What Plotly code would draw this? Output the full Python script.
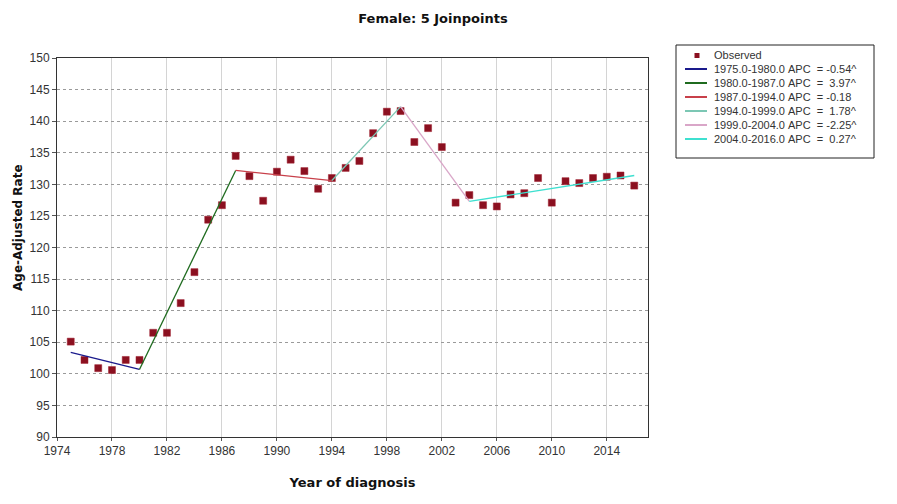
import plotly.graph_objects as go

# observed age-adjusted rates
years = list(range(1975, 2017))
observed = [
    105.1, 102.2, 100.9, 100.6, 102.2, 102.2, 106.5, 106.5, 111.2, 116.1,
    124.4, 126.7, 134.5, 131.3, 127.4, 132.0, 133.9, 132.1, 129.3, 131.0,
    132.6, 133.7, 138.1, 141.5, 141.6, 136.7, 138.9, 135.9, 127.1, 128.3,
    126.7, 126.5, 128.4, 128.6, 131.0, 127.1, 130.5, 130.2, 131.0, 131.2,
    131.4, 129.8,
]

# joinpoint model: segment end years and fitted values there
joinpoints = [1975, 1980, 1987, 1994, 1999, 2004, 2016]
fitted = [103.4, 100.7, 132.2, 130.6, 142.3, 127.3, 131.4]
seg_labels = [
    "1975.0-1980.0 APC  = -0.54^",
    "1980.0-1987.0 APC  =  3.97^",
    "1987.0-1994.0 APC  = -0.18",
    "1994.0-1999.0 APC  =  1.78^",
    "1999.0-2004.0 APC  = -2.25^",
    "2004.0-2016.0 APC  =  0.27^",
]
seg_colors = ["#1a1a8c", "#1f6b1f", "#c8404a", "#7cc7b4", "#d9a6c8", "#3ee0d0"]
obs_color = "#8b1020"

# page has an 8px body margin, so the figure is 8px smaller and shifted
W, H = 889, 496
ML, MR, MT, MB = 49, 249, 50, 67
PW, PH = W - ML - MR, H - MT - MB


def px(x):  # figure pixel -> paper x
    return (x - ML) / PW


def py(y):  # figure pixel -> paper y
    return (H - MB - y) / PH


fig = go.Figure()
fig.add_trace(go.Scatter(
    x=years, y=observed, mode="markers", name="Observed",
    marker=dict(symbol="square", size=7, color=obs_color, line=dict(color="#a02030", width=0.5)),
))
for i, lab in enumerate(seg_labels):
    fig.add_trace(go.Scatter(
        x=joinpoints[i:i + 2], y=fitted[i:i + 2], mode="lines", name=lab,
        line=dict(color=seg_colors[i], width=1.3),
    ))

# hand-made legend (tighter rows than plotly's own legend)
shapes = [dict(type="rect", xref="paper", yref="paper", x0=px(668), x1=px(866), y0=py(37), y1=py(150),
               line=dict(color="#222", width=1), fillcolor="white", layer="above")]
annotations = []
row_y = 47.5
shapes.append(dict(type="rect", xref="paper", yref="paper", x0=px(686.5), x1=px(691.5),
                   y0=py(row_y - 2.5), y1=py(row_y + 2.5), line=dict(width=0), fillcolor=obs_color))
names = ["Observed"] + seg_labels
for i, name in enumerate(names):
    y = row_y if i == 0 else 61 + 14 * (i - 1)
    if i > 0:
        shapes.append(dict(type="line", xref="paper", yref="paper", x0=px(677), x1=px(699),
                           y0=py(y), y1=py(y), line=dict(color=seg_colors[i - 1], width=2)))
    annotations.append(dict(
        xref="paper", yref="paper", x=px(704), y=py(y), xanchor="left", yanchor="middle",
        text=name.replace(" ", "\u00a0"), showarrow=False,
        font=dict(family="Liberation Sans, Arial, sans-serif", size=11, color="#333"),
    ))

# y axis title sits a bit above the plot middle in the original
annotations.append(dict(
    xref="paper", yref="paper", x=px(1), y=py(220), xanchor="left", yanchor="middle",
    text="<b>Age-Adjusted Rate</b>", textangle=-90, showarrow=False,
    font=dict(family="DejaVu Sans, Verdana, sans-serif", size=12, color="#111"),
))

fig.update_layout(
    width=W, height=H,
    paper_bgcolor="white", plot_bgcolor="white",
    margin=dict(l=ML, r=MR, t=MT, b=MB, autoexpand=False),
    font=dict(family="Liberation Sans, Arial, sans-serif", size=12, color="#333"),
    title=dict(text="<b>Female: 5 Joinpoints</b>", x=0.478, xanchor="center", y=0.978, yanchor="middle",
               font=dict(family="DejaVu Sans, Verdana, sans-serif", size=13, color="#111")),
    showlegend=False,
    shapes=shapes,
    annotations=annotations,
)
fig.update_xaxes(
    range=[1974, 2017], tickmode="linear", tick0=1974, dtick=4,
    showgrid=True, gridcolor="#d4d4d4", gridwidth=1,
    showline=True, linecolor="#333", linewidth=1, mirror=True,
    ticks="outside", ticklen=3, tickcolor="#555", zeroline=False,
    title=dict(text="<b>Year of diagnosis</b>", standoff=20,
               font=dict(family="DejaVu Sans, Verdana, sans-serif", size=13, color="#111")),
)
fig.update_yaxes(
    range=[90, 150], tickmode="linear", tick0=90, dtick=5,
    showgrid=True, gridcolor="#9a9a9a", gridwidth=1, griddash="dot",
    showline=True, linecolor="#333", linewidth=1, mirror=True,
    ticks="outside", ticklen=4, tickcolor="#555", zeroline=False,
)

fig.write_html("out.html")
